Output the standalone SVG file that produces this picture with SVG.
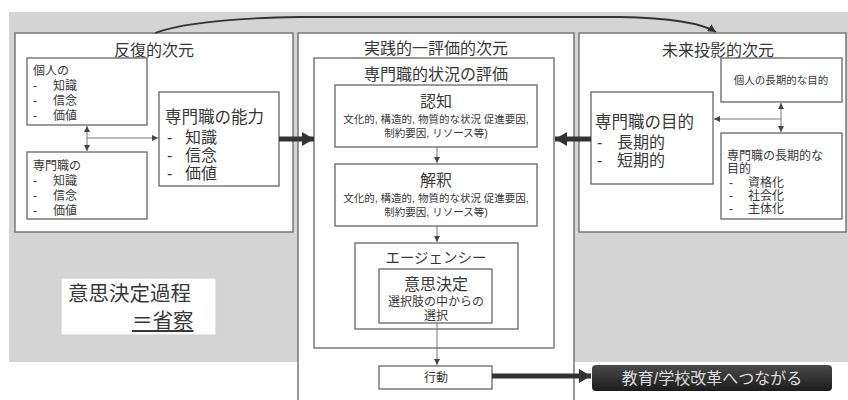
<svg xmlns="http://www.w3.org/2000/svg" width="848" height="400" viewBox="0 0 848 400">
<defs>
<style>
text{font-family:"Liberation Sans","Noto Sans CJK JP","Noto Sans CJK SC",sans-serif;fill:#383838}
.box{fill:#fff;stroke:#666;stroke-width:1.3}
.panel{fill:#fff;stroke:#777;stroke-width:1.5}
.thin{fill:none;stroke:#777;stroke-width:1}
.thick{fill:none;stroke:#333;stroke-width:5}
.c{text-anchor:middle}
.t16{font-size:16px}
.t12{font-size:12px}
.t10{font-size:10.5px}
</style>
<marker id="ah" viewBox="0 0 6 6" markerWidth="6" markerHeight="6" refX="6" refY="3" orient="auto-start-reverse" markerUnits="userSpaceOnUse"><path d="M0,0 L6,3 L0,6 z" fill="#444"/></marker>
<marker id="ahb" viewBox="0 0 12 14" markerWidth="12" markerHeight="14" refX="12" refY="7" orient="auto" markerUnits="userSpaceOnUse"><path d="M0,0 L12,7 L0,14 z" fill="#333"/></marker>
<marker id="ahc" viewBox="0 0 8 8" markerWidth="8" markerHeight="8" refX="8" refY="4" orient="auto" markerUnits="userSpaceOnUse"><path d="M0,0 L8,4 L0,8 z" fill="#333"/></marker>
<linearGradient id="dg" x1="0" y1="0" x2="0" y2="1"><stop offset="0" stop-color="#4a4a4a"/><stop offset="1" stop-color="#1c1c1c"/></linearGradient>
</defs>
<rect x="9" y="12" width="839" height="350" fill="#d4d4d4"/>

<g id="panel-left">
<rect class="panel" x="15" y="33" width="278" height="199"/>
<text class="c t16" x="154" y="56">反復的次元</text>
</g>
<g id="panel-center">
<rect class="panel" x="298" y="33" width="276" height="372"/>
<text class="c t16" x="436" y="54">実践的一評価的次元</text>
</g>
<g id="panel-right">
<rect class="panel" x="579" y="33" width="267" height="199"/>
<text class="c t16" x="718" y="56">未来投影的次元</text>
</g>

<g id="kojin">
<rect class="box" x="27" y="58" width="120" height="67"/>
<text class="t12"><tspan x="33" y="75">個人の</tspan><tspan x="33" y="90">-</tspan><tspan x="53" y="90">知識</tspan><tspan x="33" y="105">-</tspan><tspan x="53" y="105">信念</tspan><tspan x="33" y="120">-</tspan><tspan x="53" y="120">価値</tspan></text>
</g>
<g id="senmon">
<rect class="box" x="27" y="152" width="120" height="67"/>
<text class="t12"><tspan x="33" y="170">専門職の</tspan><tspan x="33" y="185">-</tspan><tspan x="53" y="185">知識</tspan><tspan x="33" y="200">-</tspan><tspan x="53" y="200">信念</tspan><tspan x="33" y="215">-</tspan><tspan x="53" y="215">価値</tspan></text>
</g>
<g id="noryoku">
<rect class="box" x="159" y="92" width="120" height="94"/>
<text font-size="16"><tspan x="165" y="123" font-size="16.5">専門職の能力</tspan><tspan x="167" y="143">-</tspan><tspan x="185" y="143">知識</tspan><tspan x="167" y="161">-</tspan><tspan x="185" y="161">信念</tspan><tspan x="167" y="179">-</tspan><tspan x="185" y="179">価値</tspan></text>
</g>

<g id="hyoka">
<rect class="box" x="314" y="58" width="240" height="290"/>
<text class="c t16" x="436" y="80">専門職的状況の評価</text>
</g>
<g id="ninchi">
<rect class="box" x="335" y="85" width="202" height="62"/>
<text class="c t16" x="436" y="107">認知</text>
<text class="c t10"><tspan x="436" y="123">文化的, 構造的, 物質的な状況 促進要因,</tspan><tspan x="436" y="137">制約要因, リソース等)</tspan></text>
</g>
<g id="kaishaku">
<rect class="box" x="335" y="164" width="202" height="62"/>
<text class="c t16" x="436" y="186">解釈</text>
<text class="c t10"><tspan x="436" y="202">文化的, 構造的, 物質的な状況 促進要因,</tspan><tspan x="436" y="216">制約要因, リソース等)</tspan></text>
</g>
<g id="agency">
<rect class="box" x="355" y="243" width="163" height="86"/>
<text class="c" x="436" y="263" font-size="14.5">エージェンシー</text>
</g>
<g id="ishikettei">
<rect class="box" x="379" y="269" width="113" height="54"/>
<text class="c" font-size="12"><tspan x="436" y="290" font-size="16">意思決定</tspan><tspan x="436" y="306">選択肢の中からの</tspan><tspan x="436" y="320">選択</tspan></text>
</g>
<g id="kodo">
<rect class="box" x="379" y="366" width="113" height="23"/>
<text class="c t12" x="436" y="382">行動</text>
</g>

<g id="mokuteki">
<rect class="box" x="591" y="92" width="122" height="92"/>
<text font-size="16"><tspan x="595" y="128" font-size="16.5">専門職の目的</tspan><tspan x="597" y="148">-</tspan><tspan x="617" y="148">長期的</tspan><tspan x="597" y="166">-</tspan><tspan x="617" y="166">短期的</tspan></text>
</g>
<g id="kojin-mokuteki">
<rect class="box" x="721" y="58" width="121" height="44"/>
<text class="c t10" x="781" y="84">個人の長期的な目的</text>
</g>
<g id="senmon-mokuteki">
<rect class="box" x="721" y="133" width="121" height="86"/>
<text class="t12"><tspan x="727" y="160">専門職の長期的な</tspan><tspan x="727" y="173">目的</tspan><tspan x="729" y="187">-</tspan><tspan x="748" y="187">資格化</tspan><tspan x="729" y="200">-</tspan><tspan x="748" y="200">社会化</tspan><tspan x="729" y="213">-</tspan><tspan x="748" y="213">主体化</tspan></text>
</g>

<g id="shosatsu">
<rect x="61" y="278" width="155" height="57" fill="#fff" stroke="#ccc" stroke-width="1"/>
<text font-size="20.5"><tspan x="68" y="301">意思決定過程</tspan><tspan x="132" y="328" text-decoration="underline">＝省察</tspan></text>
</g>
<g id="kaikaku">
<rect x="592" y="365" width="240" height="26" rx="4" fill="url(#dg)"/>
<text class="c" x="712" y="384" font-size="16" style="fill:#ddd">教育/学校改革へつながる</text>
</g>

<g id="connectors">
<path class="thin" d="M87,126 L87,151" marker-start="url(#ah)" marker-end="url(#ah)"/>
<path class="thin" d="M87,138 L158,138" marker-end="url(#ah)"/>
<path class="thin" d="M781,103 L781,132" marker-start="url(#ah)" marker-end="url(#ah)"/>
<path class="thin" d="M781,119 L714,119" marker-end="url(#ah)"/>
<path class="thin" d="M437,147 L437,163" marker-end="url(#ah)"/>
<path class="thin" d="M437,226 L437,242" marker-end="url(#ah)"/>
<path class="thin" d="M437,323 L437,365" marker-end="url(#ah)"/>
<path class="thick" d="M279,139 L314,139" stroke-width="4" marker-end="url(#ahb)"/>
<path class="thick" d="M591,139 L555,139" stroke-width="4" marker-end="url(#ahb)"/>
<path class="thick" d="M492,376 L591,376" stroke-width="6" marker-end="url(#ahb)"/>
<path d="M155,33 C185,22 235,18 300,17 L620,17 C668,18 700,22 716,32" fill="none" stroke="#333" stroke-width="1.8" marker-end="url(#ahc)"/>
</g>
</svg>
